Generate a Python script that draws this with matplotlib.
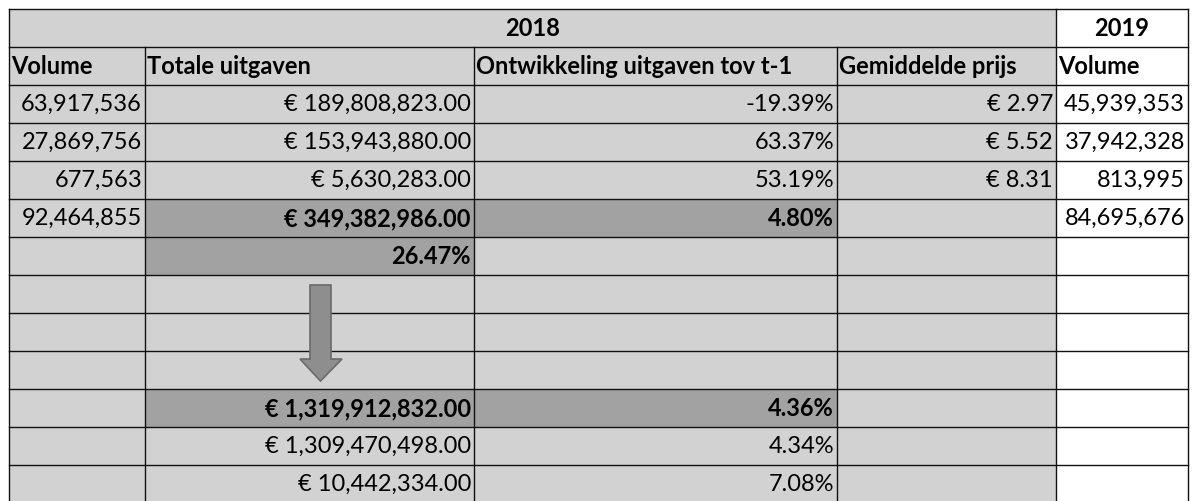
import matplotlib.pyplot as plt
from matplotlib.patches import Rectangle, Polygon

# Data
headers_2018 = ['Volume', 'Totale uitgaven', 'Ontwikkeling uitgaven tov t-1', 'Gemiddelde prijs']
header_2019 = 'Volume'
volume_2018 = [63917536, 27869756, 677563]
uitgaven_2018 = [189808823.00, 153943880.00, 5630283.00]
ontwikkeling = [-19.39, 63.37, 53.19]
gem_prijs = [2.97, 5.52, 8.31]
volume_2019 = [45939353, 37942328, 813995]
totaal_volume_2018 = 92464855
totaal_uitgaven_2018 = 349382986.00
totaal_ontwikkeling = 4.80
totaal_volume_2019 = 84695676
aandeel = 26.47
totaal_markt = [1319912832.00, 1309470498.00, 10442334.00]
markt_ontwikkeling = [4.36, 4.34, 7.08]

# Layout (pixels)
col_x = [9, 145, 474, 837, 1056, 1188]
top = 8.5
row_h = 38
n_rows = 13
light = '#d2d2d2'
dark = '#a2a2a2'

plt.rcParams['font.family'] = ['Lato', 'DejaVu Sans']
fig = plt.figure(figsize=(11.92, 5.01), dpi=100)
ax = fig.add_axes([0, 0, 1, 1])
ax.set_xlim(0, 1192)
ax.set_ylim(501, 0)
ax.axis('off')

def row_y(r):
    return top + r * row_h

# backgrounds
for r in range(n_rows):
    for c in range(5):
        color = 'white' if c == 4 else light
        ax.add_patch(Rectangle((col_x[c], row_y(r)), col_x[c + 1] - col_x[c], row_h,
                               facecolor=color, edgecolor='none', zorder=1))
for (r, c) in [(5, 1), (5, 2), (6, 1), (10, 1), (10, 2)]:
    ax.add_patch(Rectangle((col_x[c], row_y(r)), col_x[c + 1] - col_x[c], row_h,
                           facecolor=dark, edgecolor='none', zorder=1))

# grid lines
lw = 1.0
for r in range(n_rows + 1):
    ax.plot([col_x[0], col_x[-1]], [row_y(r), row_y(r)], color='#111111', lw=lw, zorder=2)
for c, x in enumerate(col_x):
    y0 = row_y(1) if c in (1, 2, 3) else row_y(0)
    ax.plot([x, x], [y0, row_y(n_rows)], color='#111111', lw=lw, zorder=2)

fs = 17

def cell(r, c, txt, bold=False, align='right'):
    y = row_y(r) + row_h / 2 + 1
    if align == 'right':
        x, ha = col_x[c + 1] - 3, 'right'
    elif align == 'left':
        x, ha = col_x[c] + 2, 'left'
    else:
        x, ha = (col_x[c] + col_x[c + 1]) / 2, 'center'
    ax.text(x, y, txt, ha=ha, va='center', fontsize=fs,
            fontweight='bold' if bold else 'normal', color='black', zorder=4)

def eur(v):
    return '€ {:,.2f}'.format(v)

# header rows
ax.text((col_x[0] + col_x[4]) / 2, row_y(0) + row_h / 2 + 1, '2018', ha='center', va='center',
        fontsize=fs, fontweight='bold', zorder=4)
cell(0, 4, '2019', bold=True, align='center')
for c, h in enumerate(headers_2018):
    cell(1, c, h, bold=True, align='left')
cell(1, 4, header_2019, bold=True, align='left')

# data rows
for i in range(3):
    r = 2 + i
    cell(r, 0, '{:,}'.format(volume_2018[i]))
    cell(r, 1, eur(uitgaven_2018[i]))
    cell(r, 2, '{:.2f}%'.format(ontwikkeling[i]))
    cell(r, 3, '€ {:.2f}'.format(gem_prijs[i]))
    cell(r, 4, '{:,}'.format(volume_2019[i]))

cell(5, 0, '{:,}'.format(totaal_volume_2018))
cell(5, 1, eur(totaal_uitgaven_2018), bold=True)
cell(5, 2, '{:.2f}%'.format(totaal_ontwikkeling), bold=True)
cell(5, 4, '{:,}'.format(totaal_volume_2019))
cell(6, 1, '{:.2f}%'.format(aandeel), bold=True)

for i in range(3):
    r = 10 + i
    cell(r, 1, eur(totaal_markt[i]), bold=(i == 0))
    cell(r, 2, '{:.2f}%'.format(markt_ontwikkeling[i]), bold=(i == 0))

# arrow
arrow = Polygon([(310, 285), (331, 285), (331, 359), (342, 359), (320.5, 381),
                 (300, 359), (310, 359)], closed=True,
                facecolor='#8e8e8e', edgecolor='#6a6a6a', lw=1.2, zorder=3)
ax.add_patch(arrow)

fig.savefig('out.png', dpi=100)
